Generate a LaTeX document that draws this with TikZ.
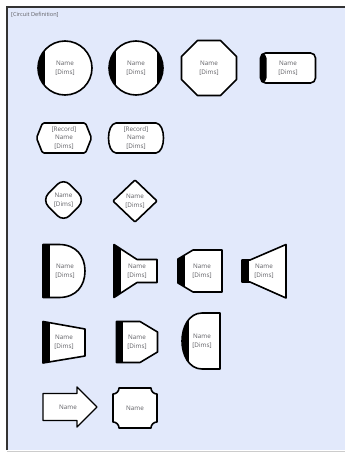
\documentclass[tikz,border=0pt]{standalone}
\usepackage{fontspec}
\setmainfont{Open Sans}
\usepackage{xcolor}
\definecolor{panelblue}{RGB}{226,233,251}
\definecolor{textgray}{RGB}{95,95,100}

\begin{document}
\begin{tikzpicture}[
    x=1pt,
    y=-1pt,
    font=\fontsize{6.3}{8.6}\selectfont,
    outline/.style={
        draw=black,
        line width=1.6pt,
        fill=white,
        line join=round
    },
    leftband/.style={
        path picture={
            \fill[black] (path picture bounding box.south west)
                rectangle ([xshift=#1]path picture bounding box.north west);
        }
    },
    leftband/.default=6.5pt,
    bothbands/.style={
        path picture={
            \fill[black] (path picture bounding box.south west)
                rectangle ([xshift=6.5pt]path picture bounding box.north west);
            \fill[black] ([xshift=-6.5pt]path picture bounding box.south east)
                rectangle (path picture bounding box.north east);
        }
    },
    caption/.style={
        align=center,
        inner sep=0pt,
        text=textgray
    },
    panel/.style={
        fill=panelblue,
        draw=none
    }
]

% =========================================================
% Canvas and panel
% =========================================================
\useasboundingbox (0,0) rectangle (345,452);
\fill[white] (0,0) rectangle (345,452);
\fill[panel] (7,7) rectangle (345,450);
\draw[black!80, line width=1.4pt] (7,450) -- (7,7) -- (345,7);
\draw[black!20, line width=1pt] (7,451) -- (345,451);
\node[caption, anchor=west, font=\fontsize{5.6}{6}\selectfont] (title) at (11,15)
{[Circuit Definition]};

% =========================================================
% Row 1: circles, octagon, rounded box
% =========================================================
\begin{scope}[shift={(65,68)}]
\draw[outline, leftband] (0,0) circle (27);
\node[caption] (circA) at (0,0) {Name\\{[Dims]}};
\end{scope}

\begin{scope}[shift={(136,68)}]
\draw[outline, bothbands] (0,0) circle (27);
\node[caption] (circB) at (0,0) {Name\\{[Dims]}};
\end{scope}

\begin{scope}[shift={(209,68)}]
\draw[outline] (-11.4,-27.5) -- (11.4,-27.5) -- (27.5,-11.4) -- (27.5,11.4)
    -- (11.4,27.5) -- (-11.4,27.5) -- (-27.5,11.4) -- (-27.5,-11.4) -- cycle;
\node[caption] (octA) at (0,0) {Name\\{[Dims]}};
\end{scope}

\begin{scope}[shift={(288,68)}]
\draw[outline, leftband=6pt, rounded corners=5pt] (-27.5,-15) rectangle (27.5,15);
\node[caption] (boxA) at (0,0) {Name\\{[Dims]}};
\end{scope}

% =========================================================
% Row 2: record shapes
% =========================================================
\begin{scope}[shift={(64,138)}]
\draw[outline, rounded corners=1.5pt] (-21.5,-15) -- (21.5,-15) -- (27.5,0)
    -- (21.5,15) -- (-21.5,15) -- (-27.5,0) -- cycle;
\node[caption] (recA) at (0,0) {[Record]\\Name\\{[Dims]}};
\end{scope}

\begin{scope}[shift={(136,138)}]
\draw[outline] (-20,-15) -- (20,-15) .. controls (30,-14) and (30,14) .. (20,15)
    -- (-20,15) .. controls (-30,14) and (-30,-14) .. (-20,-15) -- cycle;
\node[caption] (recB) at (0,0) {[Record]\\Name\\{[Dims]}};
\end{scope}

% =========================================================
% Row 3: diamonds
% =========================================================
\begin{scope}[shift={(63.5,200)}]
\draw[outline, rounded corners=9pt] (0,-22) -- (21.5,0) -- (0,22) -- (-21.5,0) -- cycle;
\node[caption] (diaA) at (0,0) {Name\\{[Dims]}};
\end{scope}

\begin{scope}[shift={(135,201)}]
\draw[outline, rounded corners=1pt] (0,-21) -- (22,0) -- (0,21) -- (-22,0) -- cycle;
\node[caption] (diaB) at (0,0) {Name\\{[Dims]}};
\end{scope}

% =========================================================
% Row 4: half disc, funnel, bevel box, horn
% =========================================================
\begin{scope}[shift={(64,271)}]
\draw[outline, leftband] (-21,-26.5) -- (-5,-26.5)
    .. controls (12,-26.5) and (21,-15) .. (21,0)
    .. controls (21,15) and (12,26.5) .. (-5,26.5) -- (-21,26.5) -- cycle;
\node[caption] (halfA) at (1,0) {Name\\{[Dims]}};
\end{scope}

\begin{scope}[shift={(135,271)}]
\draw[outline, leftband] (-21,-26.5) -- (2,-11.5) -- (22,-11.5) -- (22,11.5)
    -- (2,11.5) -- (-21,26.5) -- cycle;
\node[caption] (funA) at (2,0) {Name\\{[Dims]}};
\end{scope}

\begin{scope}[shift={(200,271)}]
\draw[outline, leftband] (-22,-12) -- (-7,-21) -- (22,-21) -- (22,21)
    -- (-7,21) -- (-22,12) -- cycle;
\node[caption] (bevA) at (2,0) {Name\\{[Dims]}};
\end{scope}

\begin{scope}[shift={(264,271)}]
\draw[outline, leftband] (-22,-11) -- (-14,-11) -- (22,-26.5) -- (22,27)
    -- (-14,11) -- (-22,11) -- cycle;
\node[caption] (hornA) at (0,0) {Name\\{[Dims]}};
\end{scope}

% =========================================================
% Row 5: trapezoid, chamfered box, reversed half disc
% =========================================================
\begin{scope}[shift={(64,342)}]
\draw[outline, leftband] (-21,-20.5) -- (21,-13) -- (21,14) -- (-21,21) -- cycle;
\node[caption] (trapA) at (0,0) {Name\\{[Dims]}};
\end{scope}

\begin{scope}[shift={(137,342)}]
\draw[outline, leftband] (-20.5,-20.5) -- (3,-20.5) -- (20.5,-10) -- (20.5,10)
    -- (3,20.5) -- (-20.5,20.5) -- cycle;
\node[caption] (chamA) at (0,0) {Name\\{[Dims]}};
\end{scope}

\begin{scope}[shift={(201,341)}]
\draw[outline, leftband] (19,-28) -- (19,28) -- (1,28)
    .. controls (-12,28) and (-19,14) .. (-19,0)
    .. controls (-19,-14) and (-12,-28) .. (1,-28) -- cycle;
\node[caption] (halfB) at (1,0) {Name\\{[Dims]}};
\end{scope}

% =========================================================
% Row 6: arrow and notched box
% =========================================================
\begin{scope}[shift={(70,407)}]
\draw[outline, line width=1.4pt] (-27,-13.5) -- (7,-13.5) -- (7,-20) -- (27,0)
    -- (7,20) -- (7,13.5) -- (-27,13.5) -- cycle;
\node[caption] (arrA) at (-2,0) {Name};
\end{scope}

\begin{scope}[shift={(135,408)}]
\draw[outline] (-16,-20) -- (16,-20)
    arc[start angle=180, end angle=90, radius=6] -- (22,14)
    arc[start angle=-90, end angle=-180, radius=6] -- (-16,20)
    arc[start angle=0, end angle=-90, radius=6] -- (-22,-14)
    arc[start angle=90, end angle=0, radius=6] -- cycle;
\node[caption] (notchA) at (0,0) {Name};
\end{scope}

\end{tikzpicture}
\end{document}
